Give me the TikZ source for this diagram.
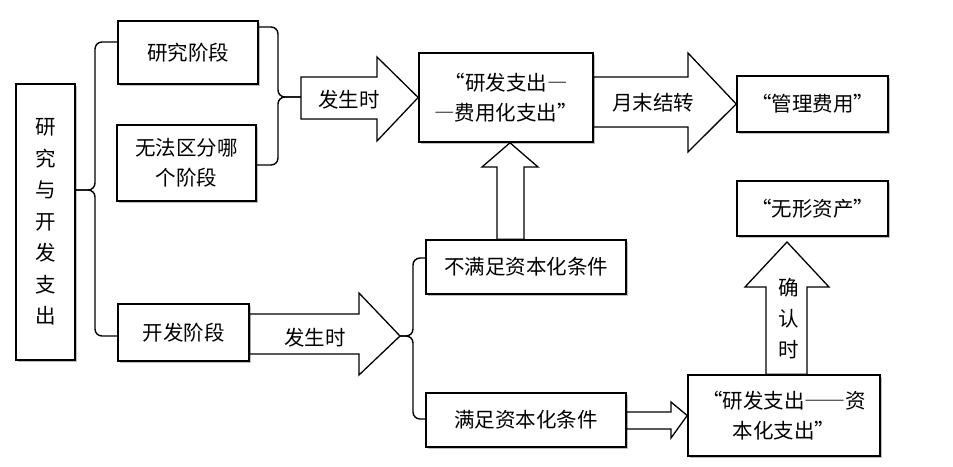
\documentclass[tikz,border=0pt]{standalone}
\usepackage{fontspec}
\setmainfont{Noto Sans CJK SC}
\newfontfamily\fwfont[RawFeature=+fwid]{Noto Sans CJK SC}
\newcommand{\fq}[1]{{\fwfont #1}}
\usetikzlibrary{shadows}
\begin{document}
\begin{tikzpicture}[x=1pt,y=-1pt,
  box/.style={draw, line width=1.6pt, fill=white, inner sep=0pt, align=center,
    font=\fontsize{20.5}{30}\selectfont,
    drop shadow={shadow xshift=1.5pt, shadow yshift=-1.5pt, fill=black!25, opacity=1}},
  blk/.style={draw, line width=1.3pt, fill=white, line join=miter},
  brc/.style={draw, line width=1.4pt, rounded corners=7pt},
  lbl/.style={font=\fontsize{20.5}{31}\selectfont, inner sep=0pt, align=center}]
\useasboundingbox (0,0) rectangle (953,466);

% boxes
\node[box, minimum width=59pt, minimum height=276pt, font=\fontsize{20.5}{31.5}\selectfont] (L) at (45.5,222) {研\\究\\与\\开\\发\\支\\出};
\node[box, minimum width=140pt, minimum height=63pt] (R1) at (188,52.5) {研究阶段};
\node[box, minimum width=139pt, minimum height=76pt] (R2) at (186.5,163) {无法区分哪\\个阶段};
\node[box, minimum width=131pt, minimum height=57pt] (D) at (183.5,332.5) {开发阶段};
\node[box, minimum width=174pt, minimum height=89pt] (F) at (506,97.5) {\fq{“}研发支出\fq{—}\\\fq{—}费用化支出\fq{”}};
\node[box, minimum width=151pt, minimum height=56pt] (G) at (812.5,104) {\fq{“}管理费用\fq{”}};
\node[box, minimum width=151pt, minimum height=55pt] (W) at (812.5,208.5) {\fq{“}无形资产\fq{”}};
\node[box, minimum width=200pt, minimum height=54pt] (N) at (526,267) {不满足资本化条件};
\node[box, minimum width=200pt, minimum height=54pt] (M) at (526,420) {满足资本化条件};
\node[box, minimum width=192pt, minimum height=81pt] (C) at (784,415.5) {\fq{“}研发支出\fq{——}资\\本化支出\fq{”}};

% braces
\coordinate (b1tip) at (75,190);
\coordinate (b1top) at (118,42);
\coordinate (b1bot) at (118,336);
\draw[brc] (b1top) -- (95,42) -- (95,190) -- (b1tip);
\draw[brc] (b1tip) -- (95,190) -- (95,336) -- (b1bot);

\coordinate (b2tip) at (301,97);
\coordinate (b2top) at (258,27);
\coordinate (b2bot) at (256,165);
\draw[brc] (b2top) -- (278,27) -- (278,97) -- (b2tip);
\draw[brc] (b2tip) -- (278,97) -- (278,165) -- (b2bot);

\coordinate (b3tip) at (400,336);
\coordinate (b3top) at (426,258);
\coordinate (b3bot) at (426,419);
\draw[brc] (b3tip) -- (413,336) -- (413,258) -- (b3top);
\draw[brc] (b3tip) -- (413,336) -- (413,419) -- (b3bot);

% block arrows
\draw[blk] (b2tip |- 0,77) -- (377,77) -- (377,57) -- (F.west) -- (377,141) -- (377,119) -- (b2tip |- 0,119) -- cycle;
\node[lbl] (t1) at (349,100) {发生时};

\draw[blk] (F.east |- 0,77) -- (688,77) -- (688,53) -- (G.west) -- (688,152) -- (688,127) -- (F.east |- 0,127) -- cycle;
\node[lbl] (t2) at (653,103) {月末结转};

\draw[blk] (497,0 |- N.north) -- (497,167) -- (482,167) -- (F.south -| 510,0) -- (538,167) -- (524,167) -- (524,0 |- N.north) -- cycle;

\draw[blk] (D.east |- 0,314) -- (359,314) -- (359,293) -- (b3tip) -- (359,375) -- (359,354) -- (D.east |- 0,354) -- cycle;
\node[lbl] (t3) at (315,338) {发生时};

\draw[blk] (M.east |- 0,412) -- (671,412) -- (671,402) -- (C.west) -- (671,438) -- (671,429) -- (M.east |- 0,429) -- cycle;

\draw[blk] (766,0 |- C.north) -- (766,287) -- (745,287) -- (787,242) -- (829,287) -- (807,287) -- (807,0 |- C.north) -- cycle;
\node[lbl] (t4) at (789,319) {确\\认\\时};
\end{tikzpicture}
\end{document}
